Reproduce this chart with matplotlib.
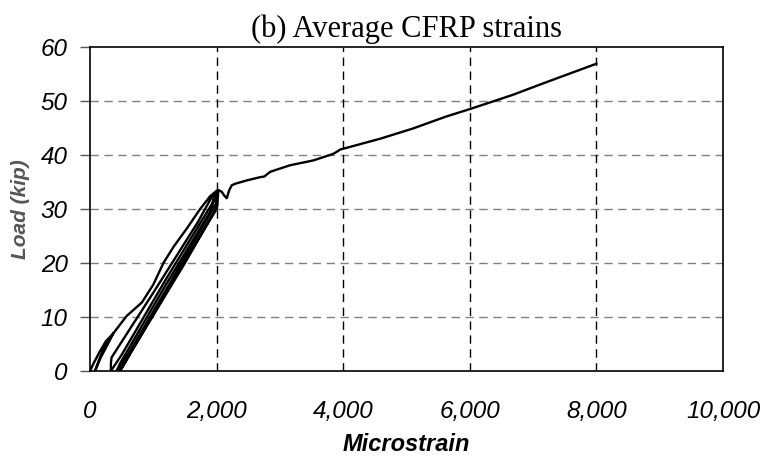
import matplotlib
matplotlib.use("Agg")
import matplotlib.pyplot as plt
from matplotlib.ticker import FuncFormatter

# small loading/unloading cycles near the origin, then the envelope
strain_cycles = [0, 60, 150, 250, 370, 260, 170, 80, 140, 230, 370,
                 580, 820, 1000, 1160, 1320, 1530, 1740, 1900, 1990,
                 1930, 1200, 500, 330,
                 330, 340, 1000, 1700, 1960,
                 1990, 1300, 600, 420,
                 480, 1200, 1900, 2000,
                 2010, 1500, 700, 474,
                 500, 1200, 2000, 2030]
load_cycles = [0, 1.5, 3.5, 5.5, 7.0, 4.5, 2.5, 0.0, 2.0, 4.5, 7.0,
               10.2, 12.7, 16.0, 20.0, 23.0, 26.4, 30.0, 32.4, 33.2,
               31.0, 17.0, 3.0, 0.0,
               1.4, 2.5, 14.5, 27.5, 33.0,
               31.0, 17.0, 3.0, 0.0,
               1.5, 16.0, 29.5, 33.4,
               30.5, 20.0, 4.5, 0.0,
               0.5, 14.5, 30.0, 33.5]

# post-peak response up to failure
strain_post = [2080, 2120, 2160, 2200, 2240, 2300, 2480, 2690, 2750, 2850,
               3160, 3530, 3840, 3900, 3950, 4580, 5100, 5620, 6000, 6670,
               7190, 8000]
load_post = [33.2, 32.5, 32.0, 33.5, 34.4, 34.7, 35.3, 35.9, 36.0, 36.9,
             38.1, 39.0, 40.2, 40.6, 41.0, 43.0, 44.9, 47.1, 48.5, 51.1,
             53.4, 56.9]

x_ticks = [0, 2000, 4000, 6000, 8000, 10000]
y_ticks = [0, 10, 20, 30, 40, 50, 60]

fig = plt.figure(figsize=(7.65, 4.59), dpi=100)
ax = fig.add_axes([90 / 765, 1 - 371 / 459, 633 / 765, 324 / 459])

ax.plot(strain_cycles + strain_post, load_cycles + load_post,
        color="black", lw=1.7, solid_joinstyle="round")

ax.set_xlim(0, 10000)
ax.set_ylim(0, 60)
ax.set_xticks(x_ticks)
ax.set_yticks(y_ticks)
ax.xaxis.set_major_formatter(FuncFormatter(lambda v, p: f"{int(v):,}"))

for y in y_ticks[1:-1]:
    ax.axhline(y, color="#808080", lw=1.0, ls=(0, (6, 4)), zorder=0)
for x in x_ticks[1:-1]:
    ax.axvline(x, color="black", lw=1.0, ls=(0, (6, 4)), zorder=0)

for s in ax.spines.values():
    s.set_linewidth(1.2)

ax.tick_params(axis="x", length=0, pad=21)
ax.tick_params(axis="y", length=7, width=1, pad=9, color="#555555")
for lab in ax.get_xticklabels() + ax.get_yticklabels():
    lab.set_fontfamily("Liberation Sans")
    lab.set_fontstyle("italic")
    lab.set_fontsize(17.5)

ax.set_xlabel("Microstrain", family="Liberation Sans", style="italic",
              weight="bold", size=17, labelpad=7)
ax.set_ylabel("Load (kip)", family="Liberation Sans", style="italic",
              weight="bold", size=15, color="#555555", labelpad=8)
ax.set_title("(b) Average CFRP strains", family="Liberation Serif",
             size=22, pad=7)

fig.savefig("out.png", dpi=100)
